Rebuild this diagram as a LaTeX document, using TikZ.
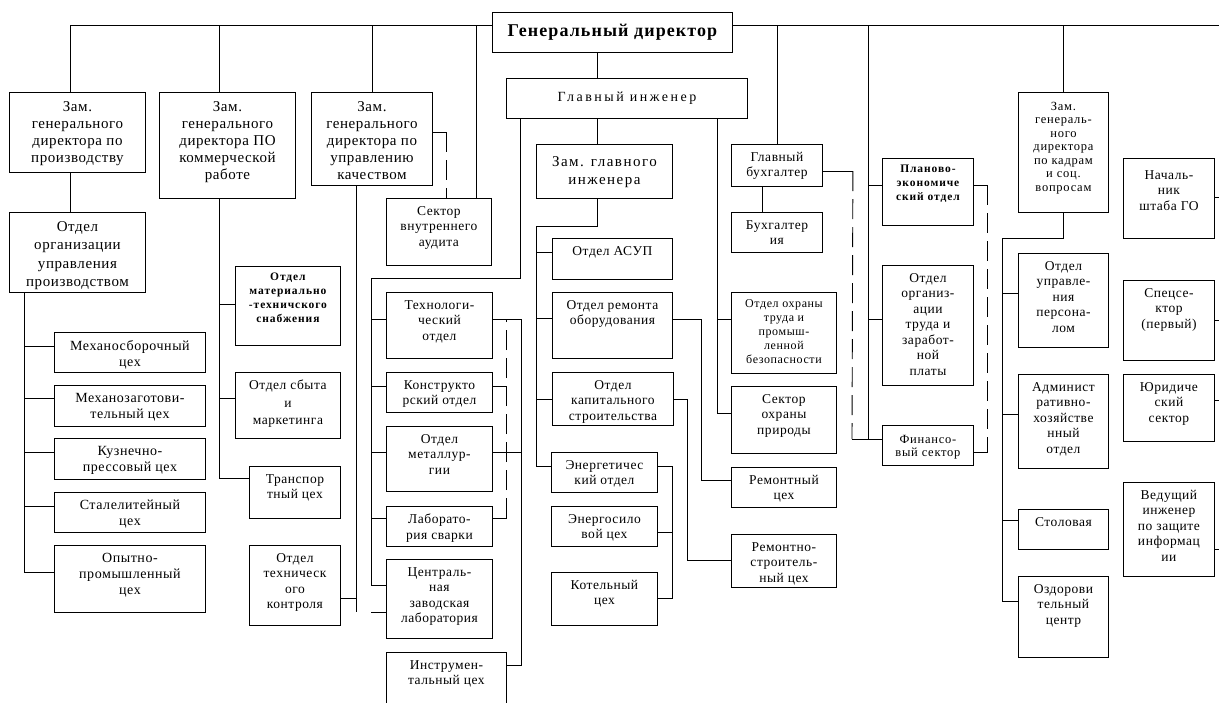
\documentclass[tikz,border=0pt]{standalone}
\usepackage{fontspec}
\setmainfont{Liberation Serif}[LetterSpace=4]
\usepackage{tikz}

\begin{document}
\begin{tikzpicture}[x=1pt, y=-1pt,
    box/.style={rectangle, draw, line width=0.9pt, anchor=north west, inner sep=0pt},
    txt/.style={anchor=north, align=center, inner sep=2pt, yshift=-6pt, font=\fontsize{13.5}{15.5}\selectfont},
    txtb/.style={anchor=north, align=center, inner sep=2pt, yshift=-7pt, font=\fontsize{15}{17}\selectfont},
    txts/.style={anchor=north, align=center, inner sep=2pt, yshift=-5pt, font=\fontsize{12.5}{13.5}\selectfont\addfontfeatures{LetterSpace=6}},
    txtsb/.style={txts, font=\bfseries\fontsize{11.5}{14}\selectfont\addfontfeatures{LetterSpace=8}},
    conn/.style={line width=0.9pt},
    dline/.style={conn, dash pattern=on 20pt off 8pt}
  ]

    \useasboundingbox (0,0) rectangle (1219,702);

    \node[box, minimum width=240pt, minimum height=40pt, font=\bfseries\fontsize{18}{20}\selectfont\addfontfeatures{LetterSpace=6}] (gd) at (492,12) {Генеральный директор};
    \node[box, minimum width=241pt, minimum height=40pt, font=\fontsize{14}{17}\selectfont\addfontfeatures{LetterSpace=18}] (gi) at (506,78) {Главный инженер};

    \node[box, minimum width=136pt, minimum height=80pt, label={[txtb]north:{Зам.\\генерального\\директора по\\производству}}] (zprod) at (9,92) {};
    \node[box, minimum width=136pt, minimum height=106pt, label={[txtb]north:{Зам.\\генерального\\директора ПО\\коммерческой\\работе}}] (zkom) at (159,92) {};
    \node[box, minimum width=121pt, minimum height=93pt, label={[txtb]north:{Зам.\\генерального\\директора по\\управлению\\качеством}}] (zkach) at (311,92) {};
    \node[box, minimum width=136pt, minimum height=80pt, label={[txtb, font=\fontsize{15}{18.5}\selectfont]north:{Отдел\\организации\\управления\\производством}}] (oup) at (9,212) {};

    \node[box, minimum width=151pt, minimum height=40pt, label={[txt, font=\fontsize{14}{16}\selectfont]north:{Механосборочный\\цех}}] (mech1) at (54,332) {};
    \node[box, minimum width=151pt, minimum height=41pt, label={[txt, font=\fontsize{14}{16}\selectfont]north:{Механозаготови-\\тельный цех}}] (mech2) at (54,385) {};
    \node[box, minimum width=151pt, minimum height=41pt, label={[txt, font=\fontsize{14}{16}\selectfont]north:{Кузнечно-\\прессовый цех}}] (kuzn) at (54,438) {};
    \node[box, minimum width=151pt, minimum height=40pt, label={[txt, font=\fontsize{14}{16}\selectfont]north:{Сталелитейный\\цех}}] (stal) at (54,492) {};
    \node[box, minimum width=151pt, minimum height=67pt, label={[txt, font=\fontsize{14}{16}\selectfont]north:{Опытно-\\промышленный\\цех}}] (opyt) at (54,545) {};

    \node[box, minimum width=105pt, minimum height=79pt, label={[txtsb]north:{Отдел\\материально\\-техничского\\снабжения}}] (mts) at (235,266) {};
    \node[box, minimum width=105pt, minimum height=66pt, label={[txt, font=\fontsize{13.5}{17.5}\selectfont]north:{Отдел сбыта\\и\\маркетинга}}] (sbyt) at (235,372) {};
    \node[box, minimum width=91pt, minimum height=52pt, label={[txt]north:{Транспор\\тный цех}}] (transp) at (249,466) {};
    \node[box, minimum width=91pt, minimum height=80pt, label={[txt]north:{Отдел\\техническ\\ого\\контроля}}] (otk) at (249,545) {};
    \node[box, minimum width=105pt, minimum height=67pt, label={[txt]north:{Сектор\\внутреннего\\аудита}}] (audit) at (386,198) {};

    \node[box, minimum width=106pt, minimum height=66pt, label={[txt]north:{Технологи-\\ческий\\отдел}}] (tech) at (386,292) {};
    \node[box, minimum width=106pt, minimum height=40pt, label={[txt]north:{Конструкто\\рский отдел}}] (konstr) at (386,372) {};
    \node[box, minimum width=106pt, minimum height=65pt, label={[txt]north:{Отдел\\металлур-\\гии}}] (metal) at (386,426) {};
    \node[box, minimum width=106pt, minimum height=40pt, label={[txt]north:{Лаборато-\\рия сварки}}] (svarka) at (386,506) {};
    \node[box, minimum width=106pt, minimum height=79pt, label={[txt]north:{Централь-\\ная\\заводская\\лаборатория}}] (czl) at (386,559) {};
    \node[box, minimum width=120pt, minimum height=55pt, label={[txt]north:{Инструмен-\\тальный цех}}] (instr) at (386,652) {};

    \node[box, minimum width=136pt, minimum height=54pt, label={[txtb, yshift=-3pt, font=\fontsize{15}{18}\selectfont\addfontfeatures{LetterSpace=10}]north:{Зам. главного\\инженера}}] (zgi) at (536,144) {};
    \node[box, minimum width=120pt, minimum height=41pt, label={[txt]north:{Отдел АСУП}}] (asup) at (552,238) {};
    \node[box, minimum width=120pt, minimum height=66pt, label={[txt]north:{Отдел ремонта\\оборудования}}] (remob) at (552,292) {};
    \node[box, minimum width=121pt, minimum height=53pt, label={[txt]north:{Отдел\\капитального\\строительства}}] (kap) at (552,372) {};
    \node[box, minimum width=106pt, minimum height=40pt, label={[txt]north:{Энергетичес\\кий отдел}}] (energ) at (551,452) {};
    \node[box, minimum width=106pt, minimum height=40pt, label={[txt]north:{Энергосило\\вой цех}}] (ensil) at (551,506) {};
    \node[box, minimum width=106pt, minimum height=53pt, label={[txt]north:{Котельный\\цех}}] (kotel) at (551,572) {};

    \node[box, minimum width=91pt, minimum height=42pt, label={[txt]north:{Главный\\бухгалтер}}] (glbuh) at (731,144) {};
    \node[box, minimum width=91pt, minimum height=40pt, label={[txt]north:{Бухгалтер\\ия}}] (buh) at (731,212) {};
    \node[box, minimum width=105pt, minimum height=81pt, label={[txts, font=\fontsize{12}{14}\selectfont\addfontfeatures{LetterSpace=5}]north:{Отдел охраны\\труда и\\промыш-\\ленной\\безопасности}}] (ohrtr) at (731,292) {};
    \node[box, minimum width=105pt, minimum height=67pt, label={[txt]north:{Сектор\\охраны\\природы}}] (ohrpr) at (731,386) {};
    \node[box, minimum width=105pt, minimum height=40pt, label={[txt]north:{Ремонтный\\цех}}] (remcex) at (731,467) {};
    \node[box, minimum width=105pt, minimum height=53pt, label={[txt]north:{Ремонтно-\\строитель-\\ный цех}}] (remstr) at (731,534) {};

    \node[box, minimum width=91pt, minimum height=67pt, label={[txtsb]north:{Планово-\\экономиче\\ский отдел}}] (plan) at (882,158) {};
    \node[box, minimum width=91pt, minimum height=120pt, label={[txt]north:{Отдел\\организ-\\ации\\труда и\\заработ-\\ной\\платы}}] (orgtr) at (882,265) {};
    \node[box, minimum width=91pt, minimum height=40pt, label={[txts, yshift=-3pt]north:{Финансо-\\вый сектор}}] (fin) at (882,425) {};

    \node[box, minimum width=90pt, minimum height=120pt, label={[txts, yshift=-3pt]north:{Зам.\\генераль-\\ного\\директора\\по кадрам\\и соц.\\вопросам}}] (kadry) at (1018,92) {};
    \node[box, minimum width=90pt, minimum height=94pt, label={[txt]north:{Отдел\\управле-\\ния\\персона-\\лом}}] (uprp) at (1018,253) {};
    \node[box, minimum width=90pt, minimum height=94pt, label={[txt]north:{Админист\\ративно-\\хозяйстве\\нный\\отдел}}] (aho) at (1018,374) {};
    \node[box, minimum width=90pt, minimum height=40pt, label={[txt]north:{Столовая}}] (stol) at (1018,509) {};
    \node[box, minimum width=90pt, minimum height=81pt, label={[txt]north:{Оздорови\\тельный\\центр}}] (ozd) at (1018,576) {};

    \node[box, minimum width=91pt, minimum height=80pt, label={[txt, yshift=-4pt]north:{Началь-\\ник\\штаба ГО}}] (shtab) at (1123,158) {};
    \node[box, minimum width=91pt, minimum height=80pt, label={[txt]north:{Спецсе-\\ктор\\(первый)}}] (spec) at (1123,280) {};
    \node[box, minimum width=91pt, minimum height=67pt, label={[txt]north:{Юридиче\\ский\\сектор}}] (yur) at (1123,374) {};
    \node[box, minimum width=91pt, minimum height=94pt, label={[txt]north:{Ведущий\\инженер\\по защите\\информац\\ии}}] (ved) at (1123,482) {};

    \coordinate (tl) at (1219,25);
    \coordinate (lt) at (oup.south -| 24,0);
    \coordinate (kt) at (356,612);
    \coordinate (tt) at (371,278);
    \coordinate (tr) at (521,319);
    \coordinate (mt) at (536,226);
    \coordinate (er) at (672,466);
    \coordinate (ht) at (1002,238);

    \draw[conn] (zprod.north -| 70,0) |- (gd.west |- tl);
    \draw[conn] (gd.east |- tl) -- (tl);
    \draw[conn] (zkom.north -| 219,0) -- (tl -| 219,0);
    \draw[conn] (zkach.north) -- (tl -| zkach.north);
    \draw[conn] (audit.north -| 476,0) -- (tl -| 476,0);
    \draw[conn] (glbuh.north) -- (tl -| glbuh.north);
    \draw[conn] (kadry.north) -- (tl -| kadry.north);
    \draw[conn] (gd.south -| 597,0) -- (gi.north -| 597,0);

    \draw[conn] (zprod.south -| 70,0) -- (oup.north -| 70,0);
    \draw[conn] (lt) |- (mech1.west |- 0,346);
    \draw[conn] (lt) |- (mech2.west |- 0,398);
    \draw[conn] (lt) |- (kuzn.west |- 0,452);
    \draw[conn] (lt) |- (stal.west |- 0,506);
    \draw[conn] (lt) |- (opyt.west |- 0,572);

    \draw[conn] (zkom.south -| 219,0) |- (mts.west |- 0,304);
    \draw[conn] (zkom.south -| 219,0) |- (sbyt.west |- 0,398);
    \draw[conn] (zkom.south -| 219,0) |- (transp.west |- 0,478);

    \draw[conn] (zkach.south -| kt) -- (kt);
    \draw[conn] (otk.east |- 0,598) -- (kt |- 0,598);
    \draw[conn] (czl.west |- kt) -- ++(-15,0);
    \draw[conn] (zkach.east |- 0,132) -- ++(14,0) coordinate (kq);
    \draw[dline] (kq) -- (audit.north -| kq);

    \draw[conn] (gi.south -| 520,0) |- (tt);
    \draw[conn] (tt) |- (tech.west |- 0,319);
    \draw[conn] (tt) |- (konstr.west |- 0,386);
    \draw[conn] (tt) |- (metal.west |- 0,452);
    \draw[conn] (tt) |- (svarka.west |- 0,518);
    \draw[conn] (tt) |- (czl.west |- 0,585);
    \draw[conn] (tech.east |- tr) -- (tr) |- (instr.east |- 0,665);
    \draw[conn] (metal.east |- 0,452) -- (tr |- 0,452);
    \draw[conn] (konstr.east |- 0,386) -- ++(14,0);
    \draw[conn] (svarka.east |- 0,518) -- ++(14,0) coordinate (sq);
    \draw[dline] (sq) -- (sq |- tr);

    \draw[conn] (gi.south -| 597,0) -- (zgi.north -| 597,0);
    \draw[conn] (zgi.south -| 597,0) |- (mt);
    \draw[conn] (mt) |- (asup.west |- 0,252);
    \draw[conn] (mt) |- (remob.west |- 0,318);
    \draw[conn] (mt) |- (kap.west |- 0,399);
    \draw[conn] (mt) |- (energ.west |- er);
    \draw[conn] (energ.east |- er) -- (er) |- (kotel.east |- 0,598);
    \draw[conn] (ensil.east |- 0,532) -- (er |- 0,532);
    \draw[conn] (remob.east |- 0,319) -| (701,480) -- (remcex.west |- 0,480);
    \draw[conn] (kap.east |- 0,399) -| (687,560) -- (remstr.west |- 0,560);

    \draw[conn] (gi.south -| 717,0) |- (ohrtr.west |- 0,319);
    \draw[conn] (gi.south -| 717,0) |- (ohrpr.west |- 0,413);

    \draw[conn] (glbuh.south -| 762,0) -- (buh.north -| 762,0);
    \draw[conn] (glbuh.east |- 0,171) -- ++(30,0) coordinate (bq);
    \draw[conn] (tl -| 868,0) |- (plan.west |- 0,185);
    \draw[conn] (tl -| 868,0) |- (orgtr.west |- 0,319);
    \draw[conn] (tl -| 868,0) |- (fin.west |- 0,439);
    \draw[conn] (fin.west |- 0,439) -- ++(-30,0) coordinate (fq);
    \draw[dline] (bq) -- (fq);
    \draw[conn] (plan.east |- 0,185) -- ++(14,0) coordinate (pq);
    \draw[conn] (fin.east |- 0,452) -- ++(14,0) coordinate (nq);
    \draw[dline] (pq) -- (nq);

    \draw[conn] (kadry.south) |- (ht);
    \draw[conn] (ht) |- (uprp.west |- 0,293);
    \draw[conn] (ht) |- (aho.west |- 0,414);
    \draw[conn] (ht) |- (stol.west |- 0,520);
    \draw[conn] (ht) |- (ozd.west |- 0,601);

    \draw[conn] (shtab.east |- 0,197) -- (tl |- 0,197);
    \draw[conn] (spec.east |- 0,320) -- (tl |- 0,320);
    \draw[conn] (yur.east |- 0,400) -- (tl |- 0,400);
    \draw[conn] (ved.east |- 0,549) -- (tl |- 0,549);

  \end{tikzpicture}
\end{document}
